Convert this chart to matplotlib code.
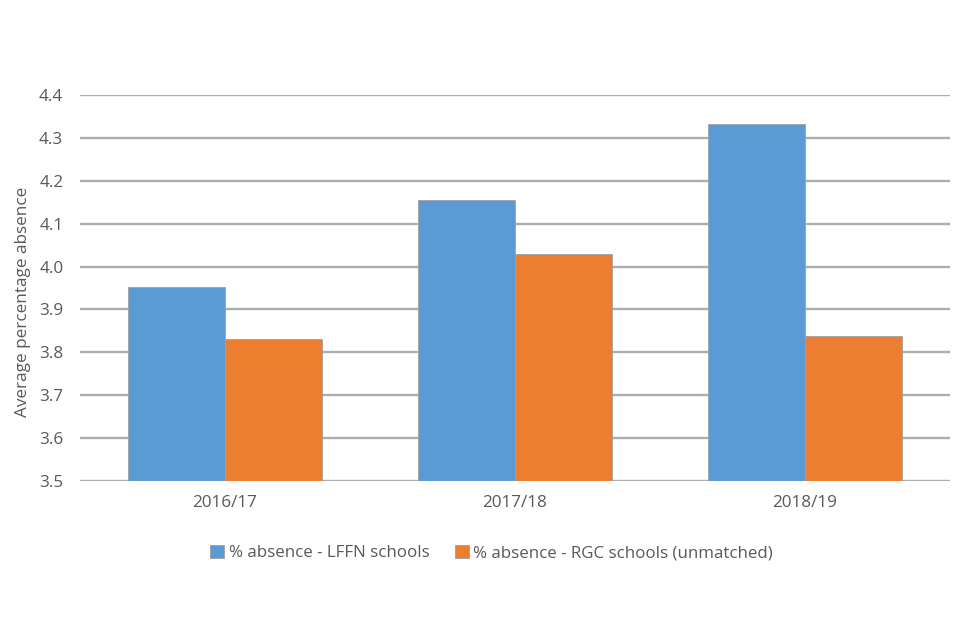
import matplotlib.pyplot as plt
import numpy as np

plt.rcParams['font.family'] = ['Open Sans', 'DejaVu Sans']

years = ['2016/17', '2017/18', '2018/19']
lffn = [3.953, 4.155, 4.333]
rgc = [3.830, 4.030, 3.838]
series_names = ['% absence - LFFN schools', '% absence - RGC schools (unmatched)']
yticks = [3.5, 3.6, 3.7, 3.8, 3.9, 4.0, 4.1, 4.2, 4.3, 4.4]

blue = '#5b9bd5'
orange = '#ed7d31'
grey = '#595959'

fig = plt.figure(figsize=(9.6, 6.4), dpi=100)
ax = fig.add_axes([80 / 960, 1 - 481 / 640, 870 / 960, 386 / 640])

x = np.arange(len(years))
w = 0.335
ax.bar(x - w / 2, lffn, w, color=blue, edgecolor='#a0a0a0', linewidth=0.6,
       label=series_names[0], zorder=3)
ax.bar(x + w / 2, rgc, w, color=orange, edgecolor='#a0a0a0', linewidth=0.6,
       label=series_names[1], zorder=3)

ax.set_xlim(-0.5, 2.5)
ax.set_ylim(3.5, 4.4)
ax.set_yticks(yticks)
ax.set_yticklabels([f'{v:.1f}' for v in yticks])
ax.set_xticks(x)
ax.set_xticklabels(years)
ax.yaxis.grid(True, color='#adadad', linewidth=1.7, zorder=0)
ax.set_axisbelow(True)
for s in ax.spines.values():
    s.set_visible(False)
ax.tick_params(axis='both', length=0, labelsize=12.3, labelcolor=grey)
ax.tick_params(axis='x', pad=10)
ax.tick_params(axis='y', pad=12)
ax.set_ylabel('Average percentage absence', fontsize=12.3, color=grey)
ax.yaxis.set_label_coords(-0.056, 0.465)

ax.legend(loc='upper center', bbox_to_anchor=(0.473, -0.125), ncol=2, frameon=False,
          fontsize=12.2, labelcolor=grey, handlelength=0.85, handleheight=0.85,
          handletextpad=0.25, columnspacing=1.5)

fig.savefig('out.png', dpi=100, facecolor='white')
